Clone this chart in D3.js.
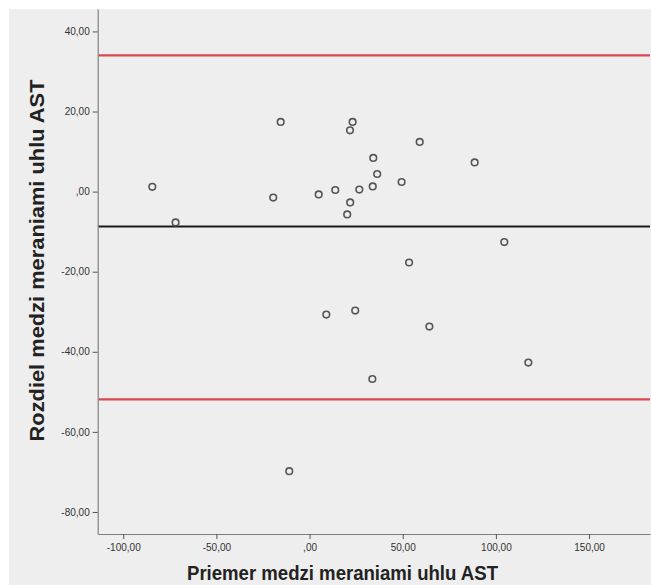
<!DOCTYPE html>
<html>
<head>
<meta charset="utf-8">
<script src="https://cdn.jsdelivr.net/npm/d3@7"></script>
<style>
  body { margin: 0; background: #fff; }
  text { font-family: "Liberation Sans", Arial, sans-serif; }
</style>
</head>
<body>
<div class="canvas"></div>
<script>
// data
const meanX = [-84.4, -71.9, -15.5, -19.5, 4.9, 13.8, 23.1, 21.7, 26.7, 21.8, 20.2, 34.2, 36.3,
               33.9, 49.4, 59.1, 88.6, 104.5, 53.4, 9.0, 24.5, 64.3, 33.7, 117.4, -10.9];
const diffY = [1.2, -7.7, 17.4, -1.5, -0.7, 0.4, 17.4, 15.3, 0.5, -2.7, -5.7, 8.4, 4.4,
               1.3, 2.4, 12.4, 7.3, -12.6, -17.7, -30.7, -29.7, -33.7, -46.8, -42.7, -69.8];
const meanLine = -8.7;
const limitLines = [34.0, -51.9];

const xTicks = [-100, -50, 0, 50, 100, 150];
const xTickLabels = ['-100,00', '-50,00', ',00', '50,00', '100,00', '150,00'];
const yTicks = [40, 20, 0, -20, -40, -60, -80];
const yTickLabels = ['40,00', '20,00', ',00', '-20,00', '-40,00', '-60,00', '-80,00'];

// svg + layout
const W = 651, H = 585;
const svg = d3.select('.canvas')
    .append('svg')
    .attr('width', W)
    .attr('height', H);

const margin = { top: 9, right: 1, bottom: 51, left: 97.7 };

svg.append('rect')
    .attr('x', 9).attr('y', 9)
    .attr('width', W - 9).attr('height', H - 9)
    .attr('fill', '#eeeeee');

const x = d3.scaleLinear()
    .domain([-113.7, 182.7])
    .range([margin.left, W - margin.right]);

const y = d3.scaleLinear()
    .domain([-85.5, 45.6])
    .range([H - margin.bottom, margin.top]);

// axes
const xAxis = d3.axisBottom(x)
    .tickValues(xTicks)
    .tickSizeInner(5)
    .tickSizeOuter(0)
    .tickFormat((d, i) => xTickLabels[i]);

const yAxis = d3.axisLeft(y)
    .tickValues(yTicks)
    .tickSizeInner(5)
    .tickSizeOuter(0)
    .tickFormat((d, i) => yTickLabels[i]);

const xAxisGroup = svg.append('g')
    .attr('transform', `translate(0, ${H - margin.bottom})`)
    .call(xAxis);
const yAxisGroup = svg.append('g')
    .attr('transform', `translate(${margin.left}, 0)`)
    .call(yAxis);

[xAxisGroup, yAxisGroup].forEach(g => {
    g.select('.domain').attr('stroke', '#808080').attr('stroke-width', 1.2);
    g.selectAll('.tick line').attr('stroke', '#555');
    g.selectAll('.tick text')
        .attr('fill', '#333')
        .style('font-size', '10px');
});
xAxisGroup.selectAll('.tick text').attr('dy', '0.9em');
yAxisGroup.selectAll('.tick text').attr('x', -8);

// reference lines
svg.selectAll('.limit')
    .data(limitLines)
    .enter()
    .append('line')
    .attr('class', 'limit')
    .attr('x1', margin.left + 1)
    .attr('x2', W - margin.right)
    .attr('y1', d => y(d))
    .attr('y2', d => y(d))
    .attr('stroke', '#e0444c')
    .attr('stroke-width', 2.2);

svg.append('line')
    .attr('x1', margin.left + 1)
    .attr('x2', W - margin.right)
    .attr('y1', y(meanLine))
    .attr('y2', y(meanLine))
    .attr('stroke', '#1a1a1a')
    .attr('stroke-width', 2);

// points
svg.selectAll('circle')
    .data(meanX.map((d, i) => ({ x: d, y: diffY[i] })))
    .enter()
    .append('circle')
    .attr('cx', d => x(d.x))
    .attr('cy', d => y(d.y))
    .attr('r', 3.3)
    .attr('fill', 'none')
    .attr('stroke', '#555')
    .attr('stroke-width', 1.6);

// axis titles
svg.append('text')
    .attr('x', 342.5)
    .attr('y', 580)
    .attr('text-anchor', 'middle')
    .attr('textLength', 311)
    .attr('lengthAdjust', 'spacingAndGlyphs')
    .style('font-size', '20px')
    .style('font-weight', 'bold')
    .attr('fill', '#222')
    .text('Priemer medzi meraniami uhlu AST');

svg.append('text')
    .attr('transform', 'translate(44, 260.5) rotate(-90)')
    .attr('text-anchor', 'middle')
    .attr('textLength', 362)
    .attr('lengthAdjust', 'spacingAndGlyphs')
    .style('font-size', '20px')
    .style('font-weight', 'bold')
    .attr('fill', '#222')
    .text('Rozdiel medzi meraniami uhlu AST');
</script>
</body>
</html>
